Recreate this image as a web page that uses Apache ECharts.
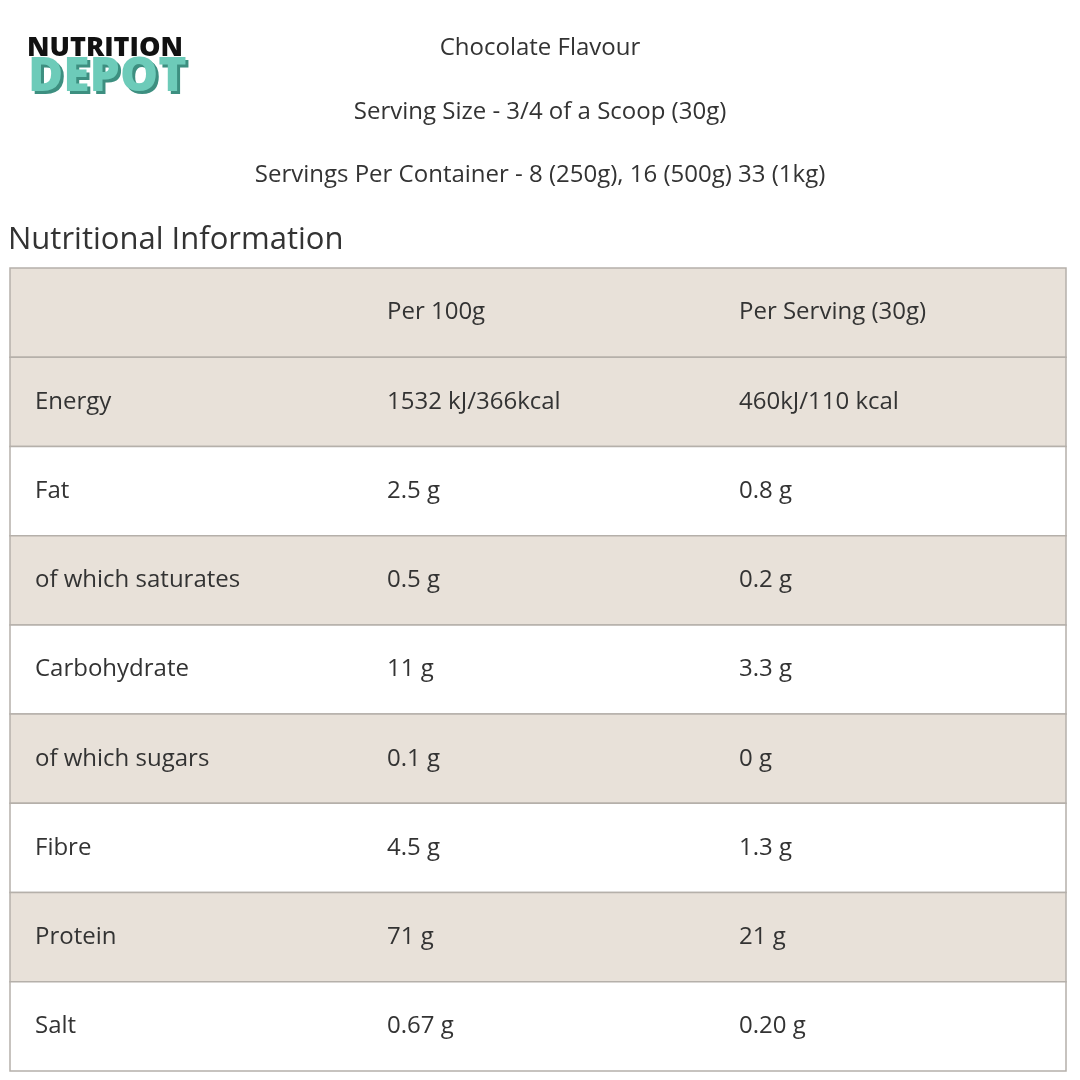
<!DOCTYPE html>
<html>
<head>
<meta charset="utf-8">
<script src="https://cdn.jsdelivr.net/npm/echarts@6/dist/echarts.min.js"></script>
<style>html,body{margin:0;padding:0;background:#fff}#main{width:1080px;height:1080px}</style>
</head>
<body>
<div id="main"></div>
<script>
// table data
var nutrients = ['', 'Energy', 'Fat', 'of which saturates', 'Carbohydrate', 'of which sugars', 'Fibre', 'Protein', 'Salt'];
var per100g = ['Per 100g', '1532 kJ/366kcal', '2.5 g', '0.5 g', '11 g', '0.1 g', '4.5 g', '71 g', '0.67 g'];
var perServing = ['Per Serving (30g)', '460kJ/110 kcal', '0.8 g', '0.2 g', '3.3 g', '0 g', '1.3 g', '21 g', '0.20 g'];
var shaded = [1, 1, 0, 1, 0, 1, 0, 1, 0];
var colStart = [0.071, 1.071, 2.071];

var font = '"Open Sans", Lato, sans-serif';
var rows = [];
for (var i = 0; i < nutrients.length; i++) {
	rows.push([i, shaded[i], nutrients[i], per100g[i], perServing[i]]);
}

var chart = echarts.init(document.getElementById('main'));
chart.setOption({
	animation: false,
	grid: { left: 10, right: 14, top: 268, bottom: 9 },
	xAxis: { type: 'value', min: 0, max: 3, show: false },
	yAxis: { type: 'value', min: 0, max: 9, inverse: true, show: false },
	graphic: [
		{ type: 'text', left: 27, top: 35, style: { text: 'NUTRITION', font: '800 27px ' + font, fill: '#111' } },
		{ type: 'text', left: 31, top: 56, style: { text: 'DEPOT', font: '800 48px ' + font, fill: '#3d8f80' } },
		{ type: 'text', left: 28, top: 53, style: { text: 'DEPOT', font: '800 48px ' + font, fill: '#6dcbb9' } },
		{ type: 'text', left: 'center', top: 36, style: { text: 'Chocolate Flavour', font: '500 24px ' + font, fill: '#333' } },
		{ type: 'text', left: 'center', top: 100, style: { text: 'Serving Size - 3/4 of a Scoop (30g)', font: '500 24px ' + font, fill: '#333' } },
		{ type: 'text', left: 'center', top: 163, style: { text: 'Servings Per Container - 8 (250g), 16 (500g) 33 (1kg)', font: '500 24px ' + font, fill: '#333' } },
		{ type: 'text', left: 8, top: 225, style: { text: 'Nutritional Information', font: '500 31px ' + font, fill: '#333' } }
	],
	series: [{
		type: 'custom',
		data: rows,
		renderItem: function (params, api) {
			var r = api.value(0);
			var tl = api.coord([0, r]);
			var br = api.coord([3, r + 1]);
			var midY = (tl[1] + br[1]) / 2;
			var children = [{
				type: 'rect',
				shape: { x: tl[0], y: tl[1], width: br[0] - tl[0], height: br[1] - tl[1] },
				style: { fill: api.value(1) ? '#e8e1d9' : '#fff', stroke: '#b5b0aa', lineWidth: 1.5 }
			}];
			for (var c = 0; c < 3; c++) {
				children.push({
					type: 'text',
					style: {
						x: api.coord([colStart[c], r])[0], y: midY,
						text: rows[params.dataIndex][2 + c],
						font: '500 24px ' + font, fill: '#333', verticalAlign: 'middle'
					}
				});
			}
			return { type: 'group', children: children };
		}
	}]
});
</script>
</body>
</html>
